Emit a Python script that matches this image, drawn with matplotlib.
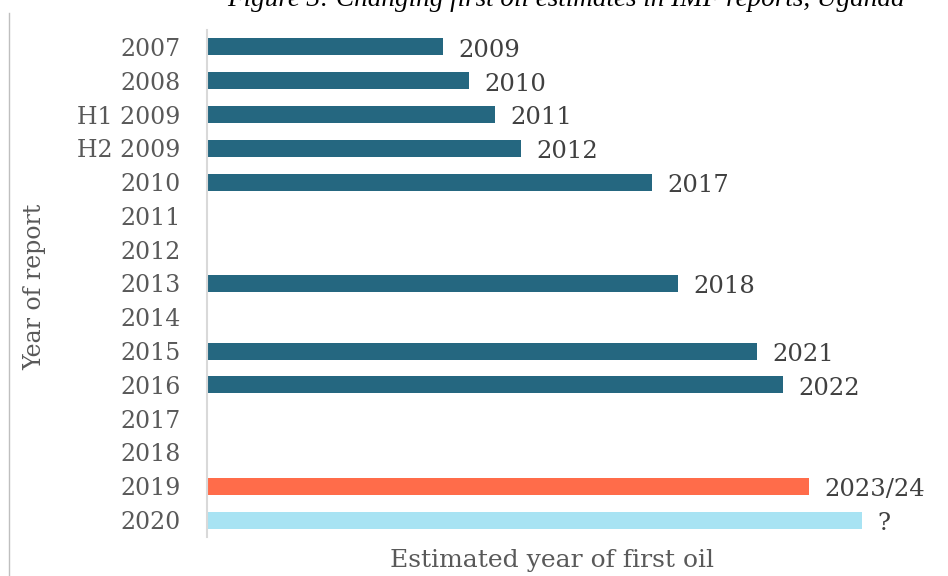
import numpy as np
import matplotlib
matplotlib.use("Agg")
import matplotlib.pyplot as plt
from matplotlib.lines import Line2D

# report year, estimated first-oil year (None = no estimate that year)
report_years = ["2007", "2008", "H1 2009", "H2 2009", "2010", "2011", "2012",
                "2013", "2014", "2015", "2016", "2017", "2018", "2019", "2020"]
first_oil = [2009, 2010, 2011, 2012, 2017, None, None,
             2018, None, 2021, 2022, None, None, 2023, 2025]
bar_labels = ["2009", "2010", "2011", "2012", "2017", "", "",
              "2018", "", "2021", "2022", "", "", "2023/24", "?"]
bar_colors = ["#256780"] * 13 + ["#FF6C4A", "#A8E3F3"]

base_year = 2000
serif = ["DejaVu Serif"]

W, H = 948, 576
fig = plt.figure(figsize=(W / 100, H / 100), dpi=100)
ax = fig.add_axes([207 / W, 1 - 537 / H, 681 / W, 507 / H])

n = len(report_years)
ypos = np.arange(n)
for i, (val, lab, col) in enumerate(zip(first_oil, bar_labels, bar_colors)):
    if val is None:
        continue
    ax.barh(i, val - base_year, left=base_year, height=0.5, color=col,
            edgecolor="none")
    ax.annotate(lab, (val, i), xytext=(11, -2.5), textcoords="offset points",
                ha="left", va="center", fontsize=17.5, color="#404040",
                family=serif)

ax.set_xlim(base_year, 2026)
ax.set_ylim(n - 0.5, -0.5)
ax.set_yticks(ypos)
ax.set_yticklabels(report_years, family=serif, fontsize=17, color="#595959")
ax.tick_params(axis="y", length=0, pad=19)
ax.set_xticks([])
for s in ["top", "right", "bottom"]:
    ax.spines[s].set_visible(False)
ax.spines["left"].set_color("#D9D9D9")
ax.spines["left"].set_linewidth(1.5)

fig.text(35 / W, 1 - 287 / H, "Year of report", rotation=90, ha="center",
         va="center", fontsize=17, color="#595959", family=serif)
fig.text(552 / W, 1 - 560 / H, "Estimated year of first oil", ha="center",
         va="center", fontsize=18, color="#595959", family=serif)

fig.text(566 / W, 1 - 6 / H,
         "Figure 3: Changing first oil estimates in IMF reports, Uganda",
         ha="center", va="baseline", fontsize=19.5, style="italic",
         family=["Liberation Serif"], color="black")

# outer frame edge on the left
fig.add_artist(Line2D([9 / W, 9 / W], [0, 1 - 13 / H], transform=fig.transFigure,
                      color="#BFBFBF", linewidth=1))

fig.savefig("out.png", dpi=100)
